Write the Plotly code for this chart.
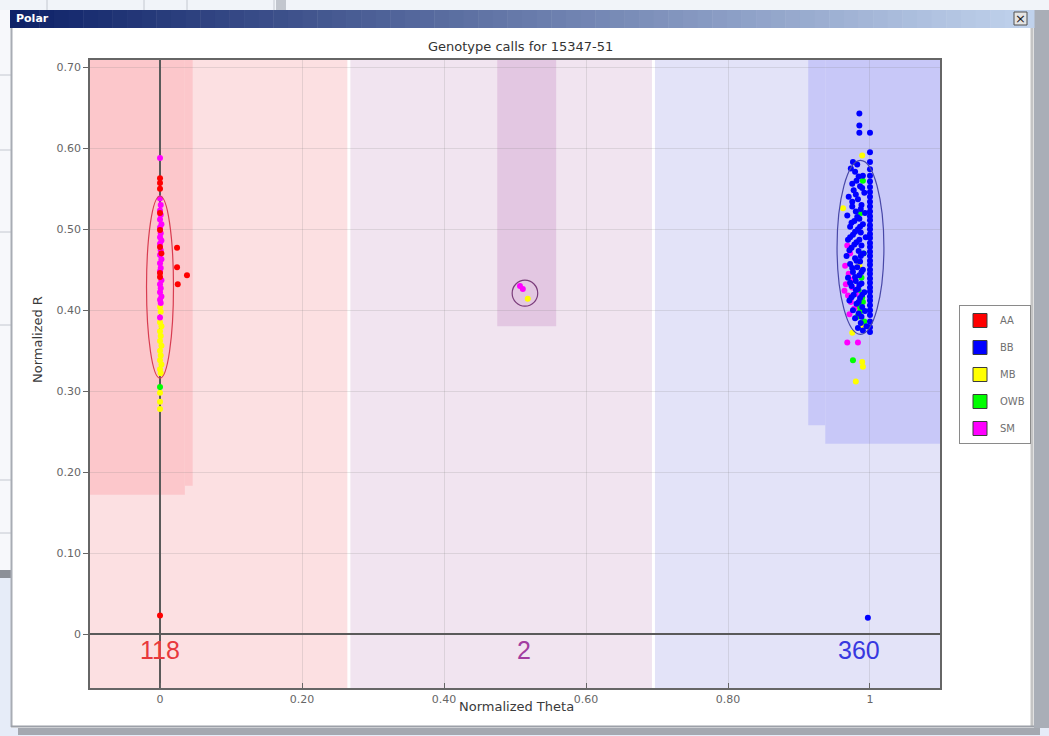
import plotly.graph_objects as go

W, H = 1049, 736

# ---------------------------------------------------------------- data
genotypes = ["AA", "BB", "MB", "OWB", "SM"]
call_colors = {"AA": "#ff0000", "BB": "#0000ff", "MB": "#ffff00",
               "OWB": "#00ff00", "SM": "#ff00ff"}

# (normalized theta, normalized R) per genotype call
AA_points = [
    (0.000, 0.563), (0.000, 0.557), (0.000, 0.550), (0.000, 0.520),
    (0.000, 0.499), (0.000, 0.478), (0.000, 0.446), (0.000, 0.441),
    (0.002, 0.470), (0.024, 0.477), (0.024, 0.453), (0.038, 0.443),
    (0.025, 0.432), (0.000, 0.023),
]

SM_points = [
    (0.000, 0.588), (0.000, 0.538), (0.001, 0.530), (0.000, 0.523),
    (0.001, 0.518), (0.000, 0.512), (0.002, 0.506), (0.000, 0.502),
    (0.001, 0.495), (0.000, 0.490), (0.002, 0.486), (0.000, 0.482),
    (0.001, 0.474), (0.000, 0.468), (0.002, 0.463), (0.000, 0.458),
    (0.001, 0.452), (0.000, 0.448), (0.002, 0.437), (0.000, 0.432),
    (0.001, 0.427), (0.000, 0.422), (0.002, 0.417), (0.000, 0.413),
    (0.001, 0.409), (0.000, 0.391),
    (0.507, 0.430), (0.511, 0.426),
    (0.968, 0.480), (0.972, 0.470), (0.965, 0.455), (0.970, 0.445),
    (0.966, 0.432), (0.975, 0.428), (0.969, 0.418), (0.973, 0.410),
    (0.978, 0.402), (0.968, 0.360), (0.983, 0.360), (0.980, 0.420),
    (0.964, 0.424), (0.971, 0.395), (0.976, 0.438),
]

MB_points = [
    (0.000, 0.404), (0.001, 0.398), (0.000, 0.385), (0.002, 0.380),
    (0.000, 0.374), (0.001, 0.368), (0.000, 0.362), (0.002, 0.356),
    (0.000, 0.350), (0.001, 0.344), (0.000, 0.338), (0.002, 0.333),
    (0.000, 0.327), (0.001, 0.322), (0.000, 0.298), (0.000, 0.287),
    (0.000, 0.278),
    (0.518, 0.414),
    (0.989, 0.591), (0.962, 0.526), (0.985, 0.455), (0.989, 0.381),
    (0.989, 0.336), (0.990, 0.330), (0.980, 0.312), (0.975, 0.372),
]

OWB_points = [
    (0.000, 0.305),
    (0.990, 0.560), (0.987, 0.520), (0.991, 0.470), (0.988, 0.440),
    (0.984, 0.425), (0.990, 0.410), (0.986, 0.398), (0.976, 0.338),
    (0.992, 0.386), (0.982, 0.392), (0.989, 0.416), (0.985, 0.404),
]

BB_points = [
    # column at theta = 1
    (1.000, 0.619), (1.000, 0.595), (1.000, 0.583), (1.000, 0.574),
    (1.000, 0.566), (1.000, 0.559), (1.000, 0.552), (1.000, 0.546),
    (1.000, 0.540), (1.000, 0.534), (1.000, 0.528), (1.000, 0.522),
    (1.000, 0.516), (1.000, 0.511), (1.000, 0.505), (1.000, 0.500),
    (1.000, 0.494), (1.000, 0.489), (1.000, 0.483), (1.000, 0.478),
    (1.000, 0.472), (1.000, 0.467), (1.000, 0.461), (1.000, 0.456),
    (1.000, 0.450), (1.000, 0.445), (1.000, 0.439), (1.000, 0.434),
    (1.000, 0.428), (1.000, 0.423), (1.000, 0.417), (1.000, 0.412),
    (1.000, 0.406), (1.000, 0.400), (1.000, 0.394), (1.000, 0.386),
    (1.000, 0.379), (1.000, 0.373),
    # main cloud
    (0.985, 0.643), (0.985, 0.628), (0.985, 0.619), (0.976, 0.583),
    (0.982, 0.580), (0.973, 0.575), (0.990, 0.566), (0.981, 0.560),
    (0.986, 0.553), (0.977, 0.548), (0.992, 0.545), (0.970, 0.540),
    (0.983, 0.537), (0.988, 0.530), (0.975, 0.528), (0.980, 0.522),
    (0.993, 0.520), (0.968, 0.517), (0.985, 0.513), (0.978, 0.510),
    (0.990, 0.506), (0.972, 0.503), (0.983, 0.500), (0.987, 0.496),
    (0.976, 0.493), (0.994, 0.490), (0.969, 0.487), (0.981, 0.484),
    (0.988, 0.480), (0.974, 0.477), (0.984, 0.473), (0.991, 0.470),
    (0.967, 0.467), (0.979, 0.464), (0.986, 0.460), (0.972, 0.457),
    (0.982, 0.453), (0.990, 0.450), (0.976, 0.447), (0.985, 0.443),
    (0.969, 0.440), (0.980, 0.436), (0.988, 0.433), (0.974, 0.430),
    (0.983, 0.426), (0.992, 0.422), (0.977, 0.419), (0.986, 0.415),
    (0.971, 0.412), (0.981, 0.408), (0.989, 0.404), (0.976, 0.400),
    (0.984, 0.396), (0.979, 0.390), (0.987, 0.384), (0.983, 0.378),
    (0.979, 0.571), (0.984, 0.565), (0.975, 0.556), (0.989, 0.551),
    (0.980, 0.543), (0.975, 0.534), (0.987, 0.525), (0.982, 0.515),
    (0.974, 0.508), (0.986, 0.503), (0.979, 0.497), (0.972, 0.490),
    (0.985, 0.487), (0.978, 0.481), (0.971, 0.474), (0.987, 0.467),
    (0.981, 0.461), (0.975, 0.452), (0.988, 0.447), (0.979, 0.441),
    (0.972, 0.434), (0.985, 0.431), (0.980, 0.425), (0.989, 0.419),
    (0.974, 0.416), (0.984, 0.410), (0.993, 0.399), (0.988, 0.392),
    (0.995, 0.380), (0.990, 0.375),
    (0.997, 0.020),
]

points_by_call = {"AA": AA_points, "BB": BB_points, "MB": MB_points,
                  "OWB": OWB_points, "SM": SM_points}

# cluster summaries: call counts and where they are labelled
cluster_counts = [118, 2, 360]
cluster_theta = [0.0, 0.513, 0.985]
cluster_count_colors = ["#e8383c", "#a23ca0", "#3838e0"]

# cluster ellipses: centre theta, centre R, half width, half height
ellipse_theta = [0.0, 0.514, 0.9866]
ellipse_r = [0.4285, 0.421, 0.4775]
ellipse_dtheta = [0.019, 0.018, 0.033]
ellipse_dr = [0.1125, 0.016, 0.1075]
ellipse_colors = ["#d83c50", "#7a3c7a", "#4848a8"]

# classification regions (theta from, theta to, R from, fill)
region_light = [(-0.1, 0.266, "#fce0e2"), (0.266, 0.695, "#f1e4f0"),
                (0.695, 1.1, "#e3e3f8")]
region_dark = [(-0.1, 0.035, 0.172, "#fcc7cb"), (0.035, 0.046, 0.183, "#fcc7cb"),
               (0.475, 0.558, 0.380, "#e3c7e2"),
               (0.913, 0.937, 0.258, "#c8c8f8"), (0.937, 1.1, 0.235, "#c8c8f8")]

X_RANGE = [-0.0986, 1.0986]
Y_RANGE = [-0.0667, 0.709]

# ---------------------------------------------------------------- figure
fig = go.Figure()

for g in ["MB", "OWB", "SM", "AA", "BB"]:
    pts = points_by_call[g]
    fig.add_trace(go.Scatter(
        x=[p[0] for p in pts], y=[p[1] for p in pts], mode="markers",
        marker=dict(color=call_colors[g], size=6, line=dict(width=0)),
        showlegend=False, hoverinfo="x+y", name=g))

# legend entries (square swatches)
for i, g in enumerate(genotypes):
    fig.add_trace(go.Scatter(
        x=[None], y=[None], mode="markers", name=g, legendgroup=g,
        marker=dict(symbol="square", size=14, color=call_colors[g],
                    line=dict(color="#3c3c3c", width=1))))

shapes = []


def px(x):
    return x / W


def py(y):
    return 1 - y / H


def prect(x0, y0, x1, y1, fill, line=None, lw=0):
    shapes.append(dict(type="rect", xref="paper", yref="paper",
                       x0=px(x0), x1=px(x1), y0=py(y1), y1=py(y0),
                       fillcolor=fill, layer="below",
                       line=dict(width=lw, color=line or fill)))


def pline(x0, y0, x1, y1, color, lw=1):
    shapes.append(dict(type="line", xref="paper", yref="paper",
                       x0=px(x0), x1=px(x1), y0=py(y0), y1=py(y1),
                       layer="below", line=dict(color=color, width=lw)))


# surrounding desktop / window frame
prect(0, 0, W, 10, "#f1f4f9")
for lx in (47, 144, 187, 274):
    pline(lx, 0, lx, 10, "#c4c8d0")
prect(276, 0, 286, 10, "#c2c6ce")
prect(0, 10, 11, 575, "#f7f8fb")
for ly in (75, 150, 232, 325, 480, 533):
    pline(0, ly, 11, ly, "#c4c8d0")
prect(0, 570, 11, 578, "#8c9098")
prect(0, 578, 11, H, "#e6ecf8")
prect(1034, 10, W, H, "#a9aeb7")
prect(0, 728, W, H, "#e6ecf8")
prect(18, 728, 1040, 735, "#a4a8b0")
pline(11.5, 28, 11.5, 727, "#a8acb4", 2)
pline(1032, 28, 1032, 727, "#c4c4c4", 3)
pline(11, 726.5, 1034, 726.5, "#9ca0a8", 2)

# title bar gradient
c0, c1 = (14, 34, 104), (192, 210, 236)
n = 70
for i in range(n):
    t = i / (n - 1)
    c = tuple(round(a + (b - a) * t) for a, b in zip(c0, c1))
    x0 = 10 + (1034 - 10) * i / n
    x1 = 10 + (1034 - 10) * (i + 1) / n + 0.5
    prect(x0, 10, x1, 28, "rgb(%d,%d,%d)" % c)
prect(1014, 12, 1027, 25, "#e4e4e4", "#505050", 1)

# classification regions inside the plot
for x0, x1, fill in region_light:
    shapes.append(dict(type="rect", xref="x", yref="y", x0=x0, x1=x1,
                       y0=Y_RANGE[0], y1=Y_RANGE[1], fillcolor=fill,
                       line=dict(width=0), layer="below"))
for x0, x1, r0, fill in region_dark:
    shapes.append(dict(type="rect", xref="x", yref="y", x0=x0, x1=x1,
                       y0=r0, y1=Y_RANGE[1], fillcolor=fill,
                       line=dict(width=0), layer="below"))
for xb in (0.266, 0.695):
    shapes.append(dict(type="line", xref="x", yref="y", x0=xb, x1=xb,
                       y0=Y_RANGE[0], y1=Y_RANGE[1],
                       line=dict(color="white", width=3), layer="below"))

# cluster ellipses
for cx, cy, dx, dy, col in zip(ellipse_theta, ellipse_r, ellipse_dtheta,
                               ellipse_dr, ellipse_colors):
    shapes.append(dict(type="circle", xref="x", yref="y",
                       x0=cx - dx, x1=cx + dx, y0=cy - dy, y1=cy + dy,
                       line=dict(color=col, width=1.2), layer="above"))

annotations = [
    dict(text="<b>Polar</b>", xref="paper", yref="paper", x=px(14), y=py(18.5),
         xanchor="left", yanchor="middle", showarrow=False,
         font=dict(family="DejaVu Sans", size=11, color="white")),
    dict(text="×", xref="paper", yref="paper", x=px(1020.5), y=py(18),
         xanchor="center", yanchor="middle", showarrow=False,
         font=dict(family="DejaVu Sans", size=13, color="#202020")),
    dict(text="Genotype calls for 15347-51", xref="paper", yref="paper",
         x=px(520), y=py(46), xanchor="center", yanchor="middle",
         showarrow=False,
         font=dict(family="DejaVu Sans", size=13, color="#333333")),
    dict(text="Normalized Theta", xref="paper", yref="paper",
         x=px(516), y=py(706), xanchor="center", yanchor="middle",
         showarrow=False,
         font=dict(family="DejaVu Sans", size=13, color="#3a3a3a")),
    dict(text="Normalized R", xref="paper", yref="paper",
         x=px(38), y=py(340), xanchor="center", yanchor="middle",
         textangle=-90, showarrow=False,
         font=dict(family="DejaVu Sans", size=13, color="#3a3a3a")),
]
for cnt, th, col in zip(cluster_counts, cluster_theta, cluster_count_colors):
    annotations.append(dict(text=str(cnt), xref="x", yref="y", x=th, y=-0.02,
                            xanchor="center", yanchor="middle",
                            showarrow=False,
                            font=dict(family="Liberation Sans", size=25,
                                      color=col)))

axis_common = dict(showgrid=True, gridcolor="rgba(120,120,120,0.18)",
                   gridwidth=1, zeroline=True, zerolinecolor="#5a5a5a",
                   zerolinewidth=1.5, showline=True, linecolor="#666666",
                   linewidth=1.5, mirror=True, ticklen=5, tickcolor="#666666",
                   tickfont=dict(family="DejaVu Sans", size=11,
                                 color="#666666"))

fig.update_layout(
    width=W, height=H,
    margin=dict(l=0, r=0, t=0, b=0, pad=0, autoexpand=False),
    paper_bgcolor="white", plot_bgcolor="white",
    xaxis=dict(range=X_RANGE, domain=[px(90), px(940)],
               tickvals=[0, 0.2, 0.4, 0.6, 0.8, 1],
               ticktext=["0", "0.20", "0.40", "0.60", "0.80", "1"],
               ticks="inside", **axis_common),
    yaxis=dict(range=Y_RANGE, domain=[py(688), py(60)],
               tickvals=[0, 0.1, 0.2, 0.3, 0.4, 0.5, 0.6, 0.7],
               ticktext=["0", "0.10", "0.20", "0.30", "0.40", "0.50",
                         "0.60", "0.70"],
               ticks="outside", **axis_common),
    legend=dict(x=px(959), y=py(305), xanchor="left", yanchor="top",
                bgcolor="white", bordercolor="#8a8a8a", borderwidth=1,
                tracegroupgap=8, traceorder="grouped",
                font=dict(family="DejaVu Sans", size=10, color="#707070")),
    shapes=shapes, annotations=annotations,
)

fig.write_html("out.html")
